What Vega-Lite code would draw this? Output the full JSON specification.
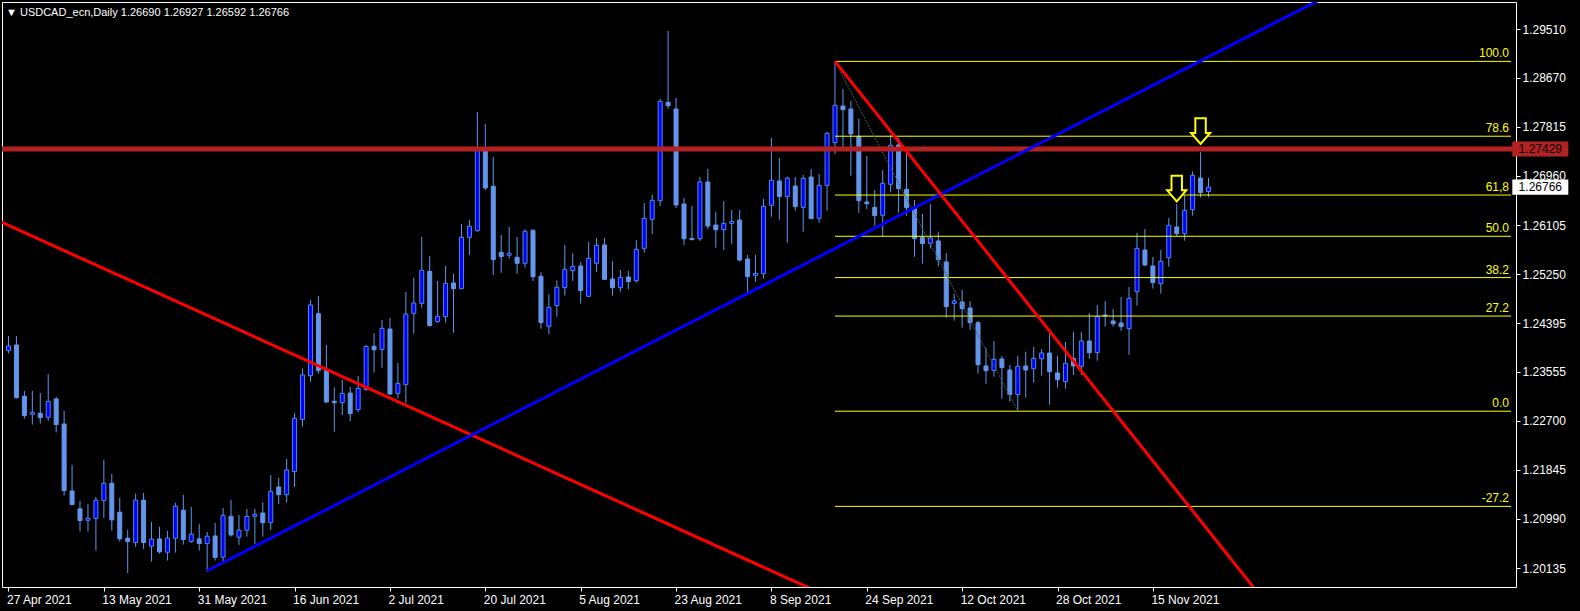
{
  "$schema": "https://vega.github.io/schema/vega-lite/v6.json",
  "width": 1514,
  "height": 585,
  "autosize": "none",
  "padding": {"left": 2, "top": 2, "right": 64, "bottom": 24},
  "background": "#000000",
  "title": {"text": "▼ USDCAD_ecn,Daily  1.26690 1.26927 1.26592 1.26766", "anchor": "start", "frame": "group", "offset": -16, "color": "#ffffff", "font": "Liberation Sans", "fontSize": 11, "fontWeight": "normal", "dx": 4},
  "config": {"view": {"stroke": "#ffffff", "strokeWidth": 1}, "axis": {"title": null}},
  "datasets": {
    "bars": [
      {"i":0,"o":1.23919,"h":1.24174,"l":1.23872,"c":1.24000},
      {"i":1,"o":1.24018,"h":1.24174,"l":1.23084,"c":1.23101},
      {"i":2,"o":1.23125,"h":1.23217,"l":1.22736,"c":1.22788},
      {"i":3,"o":1.22812,"h":1.23217,"l":1.22632,"c":1.22846},
      {"i":4,"o":1.22829,"h":1.23183,"l":1.22649,"c":1.22753},
      {"i":5,"o":1.22759,"h":1.23513,"l":1.22701,"c":1.23037},
      {"i":6,"o":1.23078,"h":1.23113,"l":1.22493,"c":1.22632},
      {"i":7,"o":1.22643,"h":1.22869,"l":1.21396,"c":1.21483},
      {"i":8,"o":1.21477,"h":1.21930,"l":1.21235,"c":1.21240},
      {"i":9,"o":1.21165,"h":1.21304,"l":1.20770,"c":1.20961},
      {"i":10,"o":1.20967,"h":1.21251,"l":1.20770,"c":1.21002},
      {"i":11,"o":1.20996,"h":1.21373,"l":1.20439,"c":1.21315},
      {"i":12,"o":1.21310,"h":1.22017,"l":1.21008,"c":1.21611},
      {"i":13,"o":1.21611,"h":1.21773,"l":1.20787,"c":1.20973},
      {"i":14,"o":1.21107,"h":1.21356,"l":1.20596,"c":1.20643},
      {"i":15,"o":1.20654,"h":1.20799,"l":1.20050,"c":1.20596},
      {"i":16,"o":1.20579,"h":1.21431,"l":1.20503,"c":1.21316},
      {"i":17,"o":1.21316,"h":1.21443,"l":1.20468,"c":1.20579},
      {"i":18,"o":1.20515,"h":1.20938,"l":1.20248,"c":1.20637},
      {"i":19,"o":1.20642,"h":1.20851,"l":1.20387,"c":1.20416},
      {"i":20,"o":1.20410,"h":1.20782,"l":1.20265,"c":1.20654},
      {"i":21,"o":1.20654,"h":1.21269,"l":1.20404,"c":1.21211},
      {"i":22,"o":1.21141,"h":1.21408,"l":1.20544,"c":1.20631},
      {"i":23,"o":1.20596,"h":1.21199,"l":1.20573,"c":1.20724},
      {"i":24,"o":1.20642,"h":1.20904,"l":1.20439,"c":1.20561},
      {"i":25,"o":1.20561,"h":1.20764,"l":1.20070,"c":1.20689},
      {"i":26,"o":1.20693,"h":1.20919,"l":1.20265,"c":1.20320},
      {"i":27,"o":1.20323,"h":1.21180,"l":1.20248,"c":1.21052},
      {"i":28,"o":1.21035,"h":1.21321,"l":1.20683,"c":1.20710},
      {"i":29,"o":1.20671,"h":1.21058,"l":1.20538,"c":1.20793},
      {"i":30,"o":1.20793,"h":1.21163,"l":1.20683,"c":1.21035},
      {"i":31,"o":1.21035,"h":1.21163,"l":1.20556,"c":1.21070},
      {"i":32,"o":1.21093,"h":1.21279,"l":1.20683,"c":1.20925},
      {"i":33,"o":1.20925,"h":1.21754,"l":1.20798,"c":1.21470},
      {"i":34,"o":1.21545,"h":1.21702,"l":1.21250,"c":1.21412},
      {"i":35,"o":1.21412,"h":1.22034,"l":1.21273,"c":1.21842},
      {"i":36,"o":1.21813,"h":1.22834,"l":1.21545,"c":1.22741},
      {"i":37,"o":1.22724,"h":1.23611,"l":1.22596,"c":1.23495},
      {"i":38,"o":1.23483,"h":1.24801,"l":1.23379,"c":1.24714},
      {"i":39,"o":1.24563,"h":1.24870,"l":1.23518,"c":1.23576},
      {"i":40,"o":1.23576,"h":1.24018,"l":1.23002,"c":1.23025},
      {"i":41,"o":1.23037,"h":1.23280,"l":1.22509,"c":1.23013},
      {"i":42,"o":1.23013,"h":1.23414,"l":1.22799,"c":1.23176},
      {"i":43,"o":1.23182,"h":1.23286,"l":1.22694,"c":1.22822},
      {"i":44,"o":1.22892,"h":1.23478,"l":1.22851,"c":1.23263},
      {"i":45,"o":1.23245,"h":1.24012,"l":1.23222,"c":1.23994},
      {"i":46,"o":1.23994,"h":1.24226,"l":1.23535,"c":1.23936},
      {"i":47,"o":1.23942,"h":1.24453,"l":1.23622,"c":1.24308},
      {"i":48,"o":1.24296,"h":1.24487,"l":1.23150,"c":1.23164},
      {"i":49,"o":1.23176,"h":1.23704,"l":1.23089,"c":1.23350},
      {"i":50,"o":1.23327,"h":1.24940,"l":1.23002,"c":1.24557},
      {"i":51,"o":1.24569,"h":1.25189,"l":1.24215,"c":1.24749},
      {"i":52,"o":1.24743,"h":1.25898,"l":1.24668,"c":1.25318},
      {"i":53,"o":1.25300,"h":1.25567,"l":1.24340,"c":1.24354},
      {"i":54,"o":1.24424,"h":1.25132,"l":1.24407,"c":1.24517},
      {"i":55,"o":1.24511,"h":1.25393,"l":1.24407,"c":1.25091},
      {"i":56,"o":1.25097,"h":1.25260,"l":1.24232,"c":1.24998},
      {"i":57,"o":1.24998,"h":1.26124,"l":1.24990,"c":1.25892},
      {"i":58,"o":1.25892,"h":1.26194,"l":1.25585,"c":1.26084},
      {"i":59,"o":1.26008,"h":1.28074,"l":1.25991,"c":1.27420},
      {"i":60,"o":1.27420,"h":1.27865,"l":1.26716,"c":1.26751},
      {"i":61,"o":1.26781,"h":1.27291,"l":1.25237,"c":1.25504},
      {"i":62,"o":1.25631,"h":1.25933,"l":1.25277,"c":1.25556},
      {"i":63,"o":1.25579,"h":1.26072,"l":1.25521,"c":1.25614},
      {"i":64,"o":1.25544,"h":1.25898,"l":1.25260,"c":1.25440},
      {"i":65,"o":1.25440,"h":1.26031,"l":1.25364,"c":1.25997},
      {"i":66,"o":1.26014,"h":1.26031,"l":1.25132,"c":1.25207},
      {"i":67,"o":1.25213,"h":1.25283,"l":1.24302,"c":1.24407},
      {"i":68,"o":1.24343,"h":1.24900,"l":1.24204,"c":1.24674},
      {"i":69,"o":1.24703,"h":1.25144,"l":1.24511,"c":1.25022},
      {"i":70,"o":1.25016,"h":1.25759,"l":1.24877,"c":1.25335},
      {"i":71,"o":1.25312,"h":1.25614,"l":1.25132,"c":1.25387},
      {"i":72,"o":1.25393,"h":1.25463,"l":1.24738,"c":1.24964},
      {"i":73,"o":1.24865,"h":1.25811,"l":1.24860,"c":1.25527},
      {"i":74,"o":1.25440,"h":1.25880,"l":1.25289,"c":1.25753},
      {"i":75,"o":1.25759,"h":1.25880,"l":1.25149,"c":1.25161},
      {"i":76,"o":1.25166,"h":1.25480,"l":1.24876,"c":1.25015},
      {"i":77,"o":1.25015,"h":1.25323,"l":1.24946,"c":1.25195},
      {"i":78,"o":1.25201,"h":1.25306,"l":1.24992,"c":1.25120},
      {"i":79,"o":1.25137,"h":1.25845,"l":1.25102,"c":1.25683},
      {"i":80,"o":1.25700,"h":1.26489,"l":1.25625,"c":1.26222},
      {"i":81,"o":1.26205,"h":1.26629,"l":1.25950,"c":1.26536},
      {"i":82,"o":1.26530,"h":1.28300,"l":1.26437,"c":1.28259},
      {"i":83,"o":1.28242,"h":1.29484,"l":1.28132,"c":1.28184},
      {"i":84,"o":1.28126,"h":1.28317,"l":1.26402,"c":1.26455},
      {"i":85,"o":1.26472,"h":1.26576,"l":1.25758,"c":1.25868},
      {"i":86,"o":1.25874,"h":1.26437,"l":1.25845,"c":1.25851},
      {"i":87,"o":1.25868,"h":1.26942,"l":1.25828,"c":1.26855},
      {"i":88,"o":1.26855,"h":1.27081,"l":1.26037,"c":1.26089},
      {"i":89,"o":1.26106,"h":1.26332,"l":1.25708,"c":1.26025},
      {"i":90,"o":1.26025,"h":1.26524,"l":1.25673,"c":1.26135},
      {"i":91,"o":1.26135,"h":1.26367,"l":1.25776,"c":1.26170},
      {"i":92,"o":1.26193,"h":1.26367,"l":1.25468,"c":1.25497},
      {"i":93,"o":1.25514,"h":1.25584,"l":1.24929,"c":1.25207},
      {"i":94,"o":1.25230,"h":1.25584,"l":1.25120,"c":1.25265},
      {"i":95,"o":1.25259,"h":1.26559,"l":1.25172,"c":1.26431},
      {"i":96,"o":1.26449,"h":1.27621,"l":1.26251,"c":1.26884},
      {"i":97,"o":1.26873,"h":1.27274,"l":1.26199,"c":1.26601},
      {"i":98,"o":1.26601,"h":1.26949,"l":1.25799,"c":1.26920},
      {"i":99,"o":1.26786,"h":1.26942,"l":1.26356,"c":1.26426},
      {"i":100,"o":1.26414,"h":1.26977,"l":1.25990,"c":1.26920},
      {"i":101,"o":1.26942,"h":1.27081,"l":1.26210,"c":1.26217},
      {"i":102,"o":1.26223,"h":1.26994,"l":1.26147,"c":1.26797},
      {"i":103,"o":1.26797,"h":1.27725,"l":1.26356,"c":1.27702},
      {"i":104,"o":1.27540,"h":1.28955,"l":1.27343,"c":1.28190},
      {"i":105,"o":1.28178,"h":1.28474,"l":1.27465,"c":1.28115},
      {"i":106,"o":1.28126,"h":1.28265,"l":1.26966,"c":1.27691},
      {"i":107,"o":1.27650,"h":1.27952,"l":1.26321,"c":1.26530},
      {"i":108,"o":1.26507,"h":1.27308,"l":1.26385,"c":1.26478},
      {"i":109,"o":1.26414,"h":1.26716,"l":1.26095,"c":1.26269},
      {"i":110,"o":1.26275,"h":1.27064,"l":1.25915,"c":1.26832},
      {"i":111,"o":1.26815,"h":1.27674,"l":1.26675,"c":1.27494},
      {"i":112,"o":1.27500,"h":1.27621,"l":1.26321,"c":1.26739},
      {"i":113,"o":1.26728,"h":1.27354,"l":1.26269,"c":1.26408},
      {"i":114,"o":1.26397,"h":1.26542,"l":1.25555,"c":1.25869},
      {"i":115,"o":1.25886,"h":1.26298,"l":1.25433,"c":1.25782},
      {"i":116,"o":1.25787,"h":1.26472,"l":1.25695,"c":1.25880},
      {"i":117,"o":1.25828,"h":1.25991,"l":1.25387,"c":1.25503},
      {"i":118,"o":1.25463,"h":1.25619,"l":1.24493,"c":1.24685},
      {"i":119,"o":1.24743,"h":1.24911,"l":1.24441,"c":1.24784},
      {"i":120,"o":1.24766,"h":1.24975,"l":1.24319,"c":1.24650},
      {"i":121,"o":1.24662,"h":1.24784,"l":1.24284,"c":1.24406},
      {"i":122,"o":1.24406,"h":1.24435,"l":1.23519,"c":1.23675},
      {"i":123,"o":1.23652,"h":1.23965,"l":1.23344,"c":1.23571},
      {"i":124,"o":1.23576,"h":1.24087,"l":1.23466,"c":1.23768},
      {"i":125,"o":1.23774,"h":1.23826,"l":1.23083,"c":1.23623},
      {"i":126,"o":1.23582,"h":1.23669,"l":1.23031,"c":1.23153},
      {"i":127,"o":1.23153,"h":1.23826,"l":1.22865,"c":1.23646},
      {"i":128,"o":1.23652,"h":1.23902,"l":1.23100,"c":1.23582},
      {"i":129,"o":1.23605,"h":1.23983,"l":1.23361,"c":1.23785},
      {"i":130,"o":1.23779,"h":1.23948,"l":1.23483,"c":1.23878},
      {"i":131,"o":1.23878,"h":1.24221,"l":1.22979,"c":1.23553},
      {"i":132,"o":1.23530,"h":1.23826,"l":1.23277,"c":1.23414},
      {"i":133,"o":1.23379,"h":1.24070,"l":1.23257,"c":1.23698},
      {"i":134,"o":1.23785,"h":1.24244,"l":1.23495,"c":1.23652},
      {"i":135,"o":1.23646,"h":1.24244,"l":1.23495,"c":1.24087},
      {"i":136,"o":1.24087,"h":1.24575,"l":1.23779,"c":1.23884},
      {"i":137,"o":1.23884,"h":1.24714,"l":1.23745,"c":1.24511},
      {"i":138,"o":1.24540,"h":1.24783,"l":1.24336,"c":1.24522},
      {"i":139,"o":1.24435,"h":1.24644,"l":1.24336,"c":1.24389},
      {"i":140,"o":1.24400,"h":1.24853,"l":1.24267,"c":1.24336},
      {"i":141,"o":1.24302,"h":1.25027,"l":1.23849,"c":1.24830},
      {"i":142,"o":1.24946,"h":1.25968,"l":1.24702,"c":1.25700},
      {"i":143,"o":1.25671,"h":1.26037,"l":1.25393,"c":1.25411},
      {"i":144,"o":1.25393,"h":1.25550,"l":1.24999,"c":1.25103},
      {"i":145,"o":1.25085,"h":1.25671,"l":1.24911,"c":1.25474},
      {"i":146,"o":1.25538,"h":1.26229,"l":1.25381,"c":1.26101},
      {"i":147,"o":1.26072,"h":1.26472,"l":1.25915,"c":1.25956},
      {"i":148,"o":1.25956,"h":1.26629,"l":1.25834,"c":1.26362},
      {"i":149,"o":1.26374,"h":1.27041,"l":1.26269,"c":1.26971},
      {"i":150,"o":1.26925,"h":1.27377,"l":1.26583,"c":1.26670},
      {"i":151,"o":1.26690,"h":1.26927,"l":1.26592,"c":1.26766}
    ],
    "fib": [
      {"lvl":"100.0","price":1.28955},
      {"lvl":"78.6","price":1.27652},
      {"lvl":"61,8","price":1.26628},
      {"lvl":"50.0","price":1.25910},
      {"lvl":"38.2","price":1.25191},
      {"lvl":"27.2","price":1.24521},
      {"lvl":"0.0","price":1.22865},
      {"lvl":"-27.2","price":1.21208}
    ],
    "fibdiag": [
      {"i":104,"price":1.28955},
      {"i":127,"price":1.22865}
    ],
    "trends": [
      {"id":"r1","i":-1,"price":1.26162},
      {"id":"r1","i":102,"price":1.19710},
      {"id":"b","i":25,"price":1.20087},
      {"id":"b","i":170,"price":1.30384},
      {"id":"r2","i":104,"price":1.28955},
      {"id":"r2","i":160,"price":1.19218}
    ],
    "level": [{"price":1.27429}],
    "tags": [{"kind":"level","price":1.27429},{"kind":"last","price":1.26766}],
    "arrows": [{"i":147,"price":1.2674},{"i":150,"price":1.2774}]
  },
  "layer": [
    {
      "data": {"name": "bars"},
      "mark": {"type": "rule", "color": "#6495ed", "strokeWidth": 1},
      "encoding": {
        "x": {"field": "i", "type": "quantitative",
              "scale": {"domain": [-0.1875, 189.0625], "nice": false, "zero": false},
              "axis": {"orient": "bottom", "values": [0,12,24,36,48,60,72,84,96,108,120,132,144],
                       "labelExpr": "['27 Apr 2021','13 May 2021','31 May 2021','16 Jun 2021','2 Jul 2021','20 Jul 2021','5 Aug 2021','23 Aug 2021','8 Sep 2021','24 Sep 2021','12 Oct 2021','28 Oct 2021','15 Nov 2021'][round(datum.value/12)]",
                       "labelAlign": "left", "labelBaseline": "top", "labelPadding": 3, "labelOffset": -2, "tickSize": 4,
                       "domain": false, "grid": false, "tickColor": "#ffffff", "labelColor": "#ffffff",
                       "labelFont": "Liberation Sans", "labelFontSize": 12, "labelFlush": false, "labelOverlap": false, "title": null}},
        "y": {"field": "l", "type": "quantitative",
              "scale": {"domain": [1.198045, 1.299887], "nice": false, "zero": false},
              "axis": {"orient": "right", "values": [1.20135,1.2099,1.21845,1.227,1.23555,1.24395,1.2525,1.26105,1.2696,1.27815,1.2867,1.2951],
                       "format": ".5f", "labelColor": "#ffffff", "tickColor": "#ffffff", "tickSize": 4,
                       "domain": false, "grid": false, "labelFont": "Liberation Sans", "labelFontSize": 12,
                       "labelPadding": 2, "labelBaseline": "middle", "labelOverlap": false, "labelFlush": false, "title": null}},
        "y2": {"field": "h"}
      }
    },
    {
      "data": {"name": "bars"},
      "mark": {"type": "bar", "size": 4, "strokeWidth": 1},
      "encoding": {
        "x": {"field": "i", "type": "quantitative"},
        "y": {"field": "o", "type": "quantitative"},
        "y2": {"field": "c"},
        "fill": {"condition": {"test": "datum.c > datum.o", "value": "#0000ff"}, "value": "#6495ed"},
        "stroke": {"condition": {"test": "datum.c > datum.o", "value": "#4f87e0"}, "value": "#6495ed"}
      }
    },
    {
      "data": {"name": "fib"},
      "mark": {"type": "rule", "color": "#ffff00", "strokeWidth": 1},
      "encoding": {
        "x": {"datum": 104, "type": "quantitative"},
        "x2": {"datum": 189.0625},
        "y": {"field": "price", "type": "quantitative"}
      }
    },
    {
      "data": {"name": "fib"},
      "mark": {"type": "text", "color": "#ffff00", "align": "right", "baseline": "bottom", "dx": -2, "dy": -1, "font": "Liberation Sans", "fontSize": 12},
      "encoding": {
        "x": {"datum": 189.0625, "type": "quantitative"},
        "y": {"field": "price", "type": "quantitative"},
        "text": {"field": "lvl"}
      }
    },
    {
      "data": {"name": "fibdiag"},
      "mark": {"type": "line", "color": "#3d5f55", "strokeWidth": 1, "strokeDash": [2, 1]},
      "encoding": {
        "x": {"field": "i", "type": "quantitative"},
        "y": {"field": "price", "type": "quantitative"}
      }
    },
    {
      "data": {"name": "level"},
      "mark": {"type": "rule", "color": "#b22222", "strokeWidth": 5},
      "encoding": {
        "y": {"field": "price", "type": "quantitative"}
      }
    },
    {
      "data": {"name": "trends"},
      "mark": {"type": "line", "strokeWidth": 3, "clip": true},
      "encoding": {
        "x": {"field": "i", "type": "quantitative"},
        "y": {"field": "price", "type": "quantitative"},
        "detail": {"field": "id"},
        "color": {"field": "id", "type": "nominal", "legend": null,
                  "scale": {"domain": ["r1", "b", "r2"], "range": ["#ff0000", "#0000ff", "#ff0000"]}}
      }
    },
    {
      "data": {"name": "arrows"},
      "mark": {"type": "point", "shape": "M -0.55 -1.35 L 0.55 -1.35 L 0.55 0.18 L 1 0.18 L 0 1.35 L -1 0.18 L -0.55 0.18 Z", "size": 361, "filled": true, "fill": "#000000", "stroke": "#ffff00", "strokeWidth": 2, "opacity": 1},
      "encoding": {
        "x": {"field": "i", "type": "quantitative"},
        "y": {"field": "price", "type": "quantitative"}
      }
    },
    {
      "data": {"name": "tags"},
      "mark": {"type": "point", "shape": "M -1 -0.27 L 1 -0.27 L 1 0.27 L -1 0.27 Z", "size": 3136, "filled": true, "opacity": 1, "strokeWidth": 0},
      "encoding": {
        "x": {"datum": 192.75, "type": "quantitative"},
        "y": {"field": "price", "type": "quantitative"},
        "fill": {"field": "kind", "type": "nominal", "legend": null,
                 "scale": {"domain": ["level", "last"], "range": ["#b22222", "#ffffff"]}}
      }
    },
    {
      "data": {"name": "tags"},
      "mark": {"type": "text", "color": "#000000", "align": "center", "baseline": "middle", "font": "Liberation Sans", "fontSize": 12},
      "encoding": {
        "x": {"datum": 192.75, "type": "quantitative"},
        "y": {"field": "price", "type": "quantitative"},
        "text": {"field": "price", "type": "quantitative", "format": ".5f"}
      }
    }
  ]
}
